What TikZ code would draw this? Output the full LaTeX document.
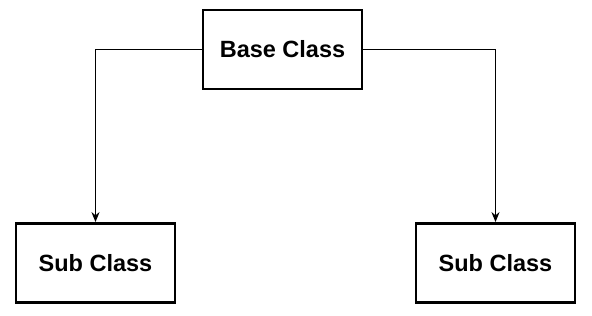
\documentclass[tikz,border=0pt]{standalone}
\usepackage{fontspec}
\setmainfont{Liberation Sans}
\usetikzlibrary{arrows.meta}

\begin{document}
\begin{tikzpicture}[x=1pt,y=-1pt]
\tikzstyle{box}=[draw,line width=2.8pt,minimum width=159pt,minimum height=79pt,inner sep=0pt,font=\fontsize{23.5}{26}\selectfont\bfseries]
\tikzstyle{link}=[line width=1.3pt,-{Stealth[length=10pt,width=8pt]}]
\useasboundingbox (0,0) rectangle (592,316);
\node[box] (base) at (282.5,49.5) {Base Class};
\node[box] (subl) at (95.5,263) {Sub Class};
\node[box] (subr) at (495.5,263) {Sub Class};

\draw[link] (base.west) -| (subl.north);
\draw[link] (base.east) -| (subr.north);
\end{tikzpicture}
\end{document}
